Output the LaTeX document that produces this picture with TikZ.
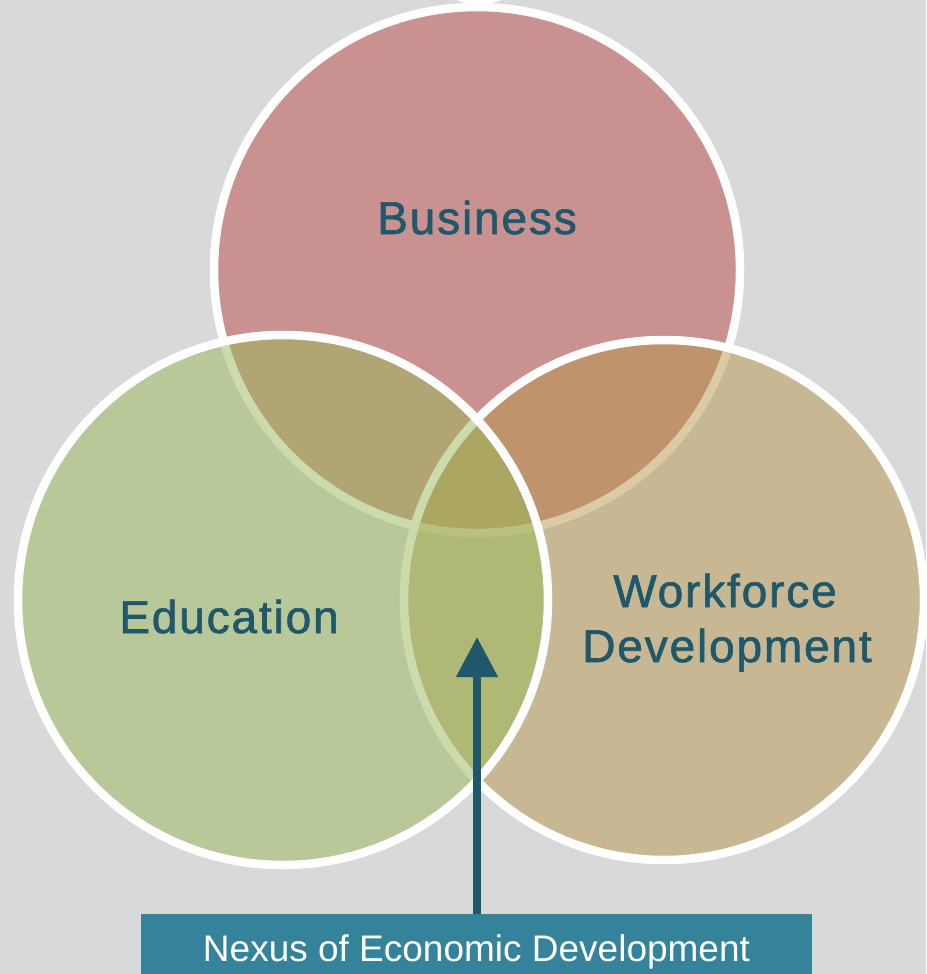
\documentclass[tikz,border=0pt]{standalone}
\usepackage{fontspec}
\setmainfont{Liberation Sans}
\newfontfamily\labfont[LetterSpace=4,FakeBold=1.4]{Liberation Sans}
\usetikzlibrary{arrows.meta}
\definecolor{bg}{HTML}{D9D9D9}
\definecolor{busc}{HTML}{C9918F}
\definecolor{educ}{HTML}{99B959}
\definecolor{wfc}{HTML}{B7974D}
\definecolor{labc}{HTML}{1F586A}
\definecolor{boxc}{HTML}{34839B}
\begin{document}
\begin{tikzpicture}[x=1pt,y=-1pt,
  venn/.style={draw=white, line width=8.5pt, fill opacity=0.5},
  lab/.style={text=labc, font=\labfont\fontsize{46}{55}\selectfont, inner sep=0pt, anchor=base},
  nexusbox/.style={fill=boxc, minimum width=671pt, minimum height=66pt, inner sep=0pt,
    text=white, font=\fontsize{37}{40}\selectfont, text height=28pt, text depth=0pt},
  pointer/.style={draw=labc, line width=7.5pt, -{Triangle[width=40pt,length=40pt]}}
]
\fill[bg] (0,0) rectangle (926,974);
\useasboundingbox (0,0) rectangle (926,974);
\fill[white] (479,-6) ellipse [x radius=28, y radius=10];
\path[venn, fill=busc, fill opacity=1] (477,270) circle [radius=263];
\path[venn, fill=wfc] (664,600) circle [radius=260];
\path[venn, fill=educ] (283,600) circle [radius=265];
\node[lab] (bus) at (477,234) {Business};
\node[lab] (edu) at (229,633) {Education};
\node[lab] (wf1) at (725,607) {Workforce};
\node[lab] (wf2) at (727,662) {Development};
\node[nexusbox] (nexus) at (476.5,947) {Nexus of Economic Development};
\coordinate (tip) at (477,637);
\draw[pointer] (nexus.north -| tip) -- (tip);
\end{tikzpicture}
\end{document}
